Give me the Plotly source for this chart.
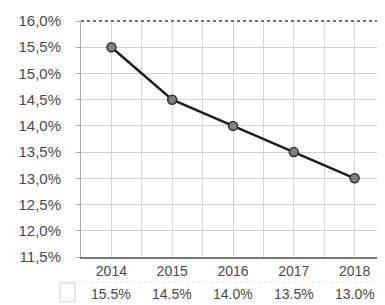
import plotly.graph_objects as go

years = ["2014", "2015", "2016", "2017", "2018"]
rates = [15.5, 14.5, 14.0, 13.5, 13.0]
y_ticks = [11.5, 12.0, 12.5, 13.0, 13.5, 14.0, 14.5, 15.0, 15.5, 16.0]

x_idx = list(range(len(years)))
half_vals = [i / 2 for i in range(-1, 2 * len(years))]
half_text = [years[int(v)] if v == int(v) and 0 <= v < len(years) else "" for v in half_vals]

fig = go.Figure()
fig.add_trace(go.Scatter(
    x=x_idx, y=rates, mode="lines+markers",
    line=dict(color="#1e1e1e", width=2.5),
    marker=dict(size=9, color="#808080", line=dict(color="#303030", width=1.5)),
    showlegend=False, cliponaxis=False,
))

for i, v in enumerate(rates):
    fig.add_annotation(
        x=i, y=0, xref="x", yref="paper", yanchor="middle",
        text=f"{v:.1f}%", showarrow=False, yshift=-37,
        font=dict(family="Liberation Sans, Arial", size=14, color="#4a4a4a"),
    )

# legend key box of the data table
fig.add_shape(type="rect", xref="paper", yref="paper",
              x0=-0.069, x1=-0.02, y0=-0.19, y1=-0.11,
              line=dict(color="#d0d0d0", width=1))
# dotted separator under the years
fig.add_shape(type="line", xref="paper", yref="paper",
              x0=-0.069, x1=1, y0=-0.106, y1=-0.106,
              line=dict(color="#dcdcdc", width=1, dash="dot"))
# dotted top border
fig.add_shape(type="line", xref="paper", yref="paper",
              x0=0, x1=1, y0=1, y1=1,
              line=dict(color="#444444", width=1.5, dash="dot"))

fig.update_layout(
    width=377, height=297,
    margin=dict(l=73, r=0, t=13, b=48, autoexpand=False),
    paper_bgcolor="white", plot_bgcolor="white",
    font=dict(family="Liberation Sans, Arial", color="#4a4a4a"),
    xaxis=dict(
        range=[-0.5, len(years) - 0.5],
        tickmode="array", tickvals=half_vals, ticktext=half_text,
        showgrid=True, gridcolor="#d6d6d6", gridwidth=1,
        ticks="", zeroline=False, automargin=False,
        showline=True, linecolor="#777777", linewidth=1.5,
        tickfont=dict(size=14, color="#4a4a4a"),
    ),
    yaxis=dict(
        range=[y_ticks[0], y_ticks[-1]],
        tickmode="array", tickvals=y_ticks,
        ticktext=[f"{t:.1f}".replace(".", ",") + "%" for t in y_ticks],
        showgrid=True, gridcolor="#cfcfcf", gridwidth=1,
        ticks="outside", ticklen=4, tickcolor="#aaaaaa",
        showline=True, linecolor="#aaaaaa", linewidth=1,
        zeroline=False, ticklabelstandoff=12, automargin=False,
        tickfont=dict(size=15, color="#4a4a4a"),
    ),
)

fig.write_html("out.html")
